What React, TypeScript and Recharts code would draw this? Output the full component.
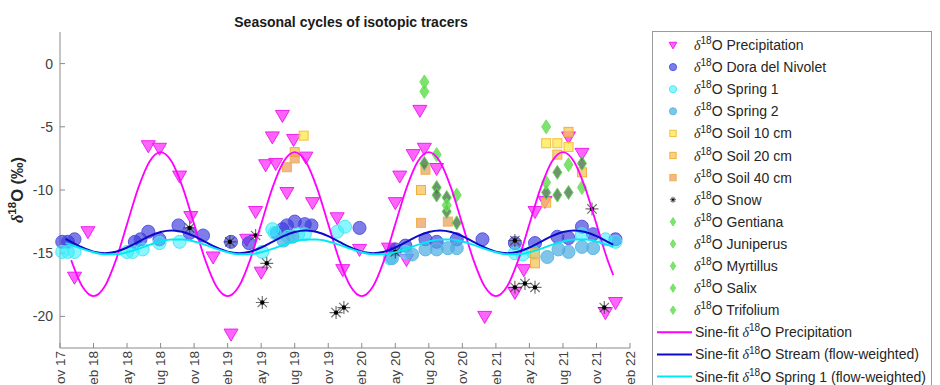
import { ComposedChart, Line, Scatter, XAxis, YAxis } from "recharts";

const FONT = '"Liberation Sans", Arial, Helvetica, sans-serif';
const SERIF = '"Liberation Serif", "DejaVu Serif", serif';

// x axis is in months counted from Nov 2017
const tickMonths = [0, 3, 6, 9, 12, 15, 18, 21, 24, 27, 30, 33, 36, 39, 42, 45, 48, 51];
const tickLabels = ["Nov 17", "Feb 18", "May 18", "Aug 18", "Nov 18", "Feb 19", "May 19", "Aug 19", "Nov 19",
  "Feb 20", "May 20", "Aug 20", "Nov 20", "Feb 21", "May 21", "Aug 21", "Nov 21", "Feb 22"];
const yTicks = [-20, -15, -10, -5, 0];

// sine-fit curves, one value per month
const fitMonths = [0.5, 1, 2, 3, 4, 5, 6, 7, 8, 9, 10, 11, 12, 13, 14, 15, 16, 17, 18, 19, 20, 21, 22, 23, 24, 25,
  26, 27, 28, 29, 30, 31, 32, 33, 34, 35, 36, 37, 38, 39, 40, 41, 42, 43, 44, 45, 46, 47, 48, 49, 49.5];
const precipFit = [null,
  -15.55, -17.64, -18.4, -17.64, -15.55, -12.7, -9.85, -7.76, -7.0, -7.76, -9.85, -12.7,
  -15.55, -17.64, -18.4, -17.64, -15.55, -12.7, -9.85, -7.76, -7.0, -7.76, -9.85, -12.7,
  -15.55, -17.64, -18.4, -17.64, -15.55, -12.7, -9.85, -7.76, -7.0, -7.76, -9.85, -12.7,
  -15.55, -17.64, -18.4, -17.64, -15.55, -12.7, -9.85, -7.76, -7.0, -7.76, -9.85, -12.7,
  -15.55, -16.73];
const streamFit = [-13.87,
  -14.1, -14.55, -14.88, -15.0, -14.88, -14.55, -14.1, -13.65, -13.32, -13.2, -13.32, -13.65,
  -14.1, -14.55, -14.88, -15.0, -14.88, -14.55, -14.1, -13.65, -13.32, -13.2, -13.32, -13.65,
  -14.1, -14.55, -14.88, -15.0, -14.88, -14.55, -14.1, -13.65, -13.32, -13.2, -13.32, -13.65,
  -14.1, -14.55, -14.88, -15.0, -14.88, -14.55, -14.1, -13.65, -13.32, -13.2, -13.32, -13.65,
  -14.1, -14.33];
const springFit = [-14.2,
  -14.34, -14.66, -14.92, -15.08, -15.08, -14.92, -14.66, -14.34, -14.08, -13.92, -13.92, -14.08,
  -14.34, -14.66, -14.92, -15.08, -15.08, -14.92, -14.66, -14.34, -14.08, -13.92, -13.92, -14.08,
  -14.34, -14.66, -14.92, -15.08, -15.08, -14.92, -14.66, -14.34, -14.08, -13.92, -13.92, -14.08,
  -14.34, -14.66, -14.92, -15.08, -15.08, -14.92, -14.66, -14.34, -14.08, -13.92, -13.92, -14.08,
  -14.34, -14.5];

// observations: [month, d18O]
const precipObs = [[1.3, -16.9], [2.5, -13.3], [7.9, -6.5], [8.9, -6.7], [10.7, -8.9], [11.7, -12.1], [13.7, -15.3],
  [15.3, -21.4], [16.7, -13.9], [17.5, -11.7], [18.0, -16.5], [18.4, -8.0], [19.0, -5.8], [19.3, -7.9], [19.9, -4.1],
  [20.3, -10.2], [20.9, -6.0], [22.0, -7.4], [22.6, -11.0], [24.8, -12.2], [25.3, -16.3], [26.8, -14.7], [29.4, -14.6],
  [30.0, -11.0], [30.4, -8.9], [31.0, -15.5], [31.6, -7.2], [32.2, -3.7], [32.6, -6.7], [33.7, -8.3], [38.0, -20.0],
  [40.7, -18.1], [41.5, -16.3], [42.5, -11.7], [43.4, -10.9], [45.5, -5.8], [46.7, -7.1], [48.8, -19.7], [49.7, -18.9]];
const doraObs = [[0.2, -14.1], [0.7, -14.1], [1.3, -13.9], [6.7, -14.1], [7.2, -13.9], [7.9, -13.3], [8.9, -13.9],
  [10.6, -12.8], [11.6, -13.4], [12.8, -13.6], [15.3, -14.1], [16.9, -14.2], [19.4, -13.4], [19.9, -13.1], [20.3, -12.8],
  [21.0, -12.5], [21.9, -12.7], [22.5, -12.8], [26.8, -13.0], [30.0, -14.7], [30.9, -14.4], [32.7, -13.9], [33.7, -14.1],
  [35.5, -13.9], [37.8, -13.9], [40.7, -14.2], [42.5, -14.2], [44.5, -13.7], [45.5, -13.8], [46.7, -12.9], [47.7, -13.5],
  [49.7, -13.9]];
const spring1Obs = [[0.2, -14.9], [0.7, -14.9], [1.3, -14.9], [6.0, -14.9], [6.5, -14.9], [7.4, -14.7], [8.9, -14.2],
  [10.7, -14.1], [18.1, -14.9], [19.0, -13.1], [19.2, -13.4], [20.4, -13.7], [21.3, -13.5], [21.9, -13.5], [24.8, -13.3],
  [25.5, -12.9], [29.5, -15.4], [30.9, -14.9], [40.7, -15.0], [41.4, -15.1], [42.3, -14.9], [46.7, -13.5], [48.8, -13.9],
  [49.7, -14.1]];
const spring2Obs = [[20.0, -14.0], [20.8, -13.7], [29.7, -15.4], [31.5, -15.1], [32.7, -14.7], [33.7, -14.7], [34.7, -14.6],
  [35.5, -14.6], [43.6, -15.3], [44.6, -14.7], [45.5, -14.9], [46.7, -14.5], [47.7, -14.6]];
const soil10Obs = [[21.8, -5.7], [43.5, -6.3], [44.5, -6.3], [45.5, -6.6]];
const soil20Obs = [[21.0, -7.0], [32.3, -10.0], [45.5, -5.4], [44.5, -7.2], [46.7, -8.6], [43.5, -11.0], [42.5, -15.0], [42.5, -15.8]];
const soil40Obs = [[20.3, -8.2], [21.0, -7.5], [32.7, -8.4], [32.3, -12.6], [34.7, -12.5]];
const snowObs = [[11.6, -13.0], [15.2, -14.1], [17.5, -13.6], [18.5, -15.8], [18.1, -18.9], [24.7, -19.7], [25.4, -19.3],
  [30.0, -14.9], [40.7, -14.0], [40.7, -17.7], [41.6, -17.4], [42.5, -17.7], [47.6, -11.5], [48.7, -19.3]];
const gentianaObs = [[32.6, -7.9], [33.7, -9.8], [34.6, -10.6], [44.5, -8.6], [43.5, -10.2]];
const juniperusObs = [[33.7, -10.4], [34.6, -11.7], [35.5, -12.6], [44.5, -10.4], [45.5, -10.2], [46.7, -7.9]];
const myrtillusObs = [[32.6, -1.45], [33.7, -7.2], [43.5, -5.0]];
const salixObs = [[32.6, -2.2], [35.5, -10.4], [45.5, -8.0]];
const trifoliumObs = [[34.6, -11.2], [46.7, -9.8], [43.5, -9.4]];

const pts = (arr: number[][]) => arr.map(([m, v]) => ({ m, v }));
const fitRows = fitMonths.map((m, i) => ({ m, precip: precipFit[i], stream: streamFit[i], spring: springFit[i] }));

type Sty = { fill: string; stroke: string; op: number };
const ST: Record<string, Sty> = {
  precip: { fill: "#ff30ff", stroke: "#ee20ee", op: 0.75 },
  dora: { fill: "#3838dc", stroke: "#5454e4", op: 0.65 },
  spring1: { fill: "#30ecff", stroke: "#48eaf0", op: 0.55 },
  spring2: { fill: "#48ace0", stroke: "#62b8e6", op: 0.7 },
  soil10: { fill: "#ffe848", stroke: "#f0c040", op: 0.75 },
  soil20: { fill: "#f7c458", stroke: "#efb040", op: 0.75 },
  soil40: { fill: "#ec985a", stroke: "#f0b050", op: 0.7 },
  dark: { fill: "#4a784a", stroke: "#66d855", op: 0.8 },
  light: { fill: "#5cdc4c", stroke: "#72e462", op: 0.8 },
};

const tri = (s: Sty, k = 1) => (p: any) => (
  <path d={`M${p.cx - 7 * k},${p.cy - 5 * k}L${p.cx + 7 * k},${p.cy - 5 * k}L${p.cx},${p.cy + 7 * k}Z`}
    fill={s.fill} fillOpacity={s.op} stroke={s.stroke} strokeWidth={1} />
);
const circ = (s: Sty, k = 1) => (p: any) => (
  <circle cx={p.cx} cy={p.cy} r={6.5 * k} fill={s.fill} fillOpacity={s.op} stroke={s.stroke} strokeWidth={1} />
);
const sq = (s: Sty, k = 1) => (p: any) => (
  <rect x={p.cx - 4.5 * k} y={p.cy - 4.5 * k} width={9 * k} height={9 * k} fill={s.fill} fillOpacity={s.op} stroke={s.stroke} strokeWidth={1} />
);
const dia = (s: Sty, k = 1) => (p: any) => (
  <path d={`M${p.cx},${p.cy - 7 * k}L${p.cx + 4.5 * k},${p.cy}L${p.cx},${p.cy + 7 * k}L${p.cx - 4.5 * k},${p.cy}Z`}
    fill={s.fill} fillOpacity={s.op} stroke={s.stroke} strokeWidth={1} />
);
const star = (k = 1) => (p: any) => {
  const r = 6.5 * k, d = r * 0.72;
  return (
    <g stroke="#333" strokeWidth={1.2}>
      <path d={`M${p.cx - r},${p.cy}H${p.cx + r}M${p.cx},${p.cy - r}V${p.cy + r}M${p.cx - d},${p.cy - d}L${p.cx + d},${p.cy + d}M${p.cx - d},${p.cy + d}L${p.cx + d},${p.cy - d}`} strokeOpacity={0.7} />
      <circle cx={p.cx} cy={p.cy} r={2.2 * k} fill="#000" stroke="none" />
    </g>
  );
};

const XTick = ({ x, y, payload }: any) => (
  <text transform={`translate(${x},${y}) rotate(-90)`} textAnchor="end" dy="0.35em" fontSize={13.5} fill="#404040" fontFamily={FONT}>
    {tickLabels[tickMonths.indexOf(payload.value)]}
  </text>
);

const Iso = ({ x, y, pre = "", post, size = 14, bold = false }: any) => (
  <text x={x} y={y} fontSize={size} fill="#262626" fontFamily={FONT} fontWeight={bold ? "bold" : "normal"}>
    {pre}
    <tspan fontFamily={SERIF} fontStyle="italic">δ</tspan>
    <tspan fontSize={size * 0.72} dy={-size * 0.42}>18</tspan>
    <tspan dy={size * 0.42}>{"O " + post}</tspan>
  </text>
);

const legendItems: { name: string; mark: (p: any) => any }[] = [
  { name: "Precipitation", mark: tri(ST.precip, 0.55) },
  { name: "Dora del Nivolet", mark: circ(ST.dora, 0.55) },
  { name: "Spring 1", mark: circ(ST.spring1, 0.55) },
  { name: "Spring 2", mark: circ(ST.spring2, 0.55) },
  { name: "Soil 10 cm", mark: sq(ST.soil10, 0.7) },
  { name: "Soil 20 cm", mark: sq(ST.soil20, 0.7) },
  { name: "Soil 40 cm", mark: sq(ST.soil40, 0.7) },
  { name: "Snow", mark: star(0.45) },
  { name: "Gentiana", mark: dia(ST.light, 0.6) },
  { name: "Juniperus", mark: dia(ST.light, 0.6) },
  { name: "Myrtillus", mark: dia(ST.light, 0.6) },
  { name: "Salix", mark: dia(ST.light, 0.6) },
  { name: "Trifolium", mark: dia(ST.light, 0.6) },
];
const legendLines = [
  { name: "Precipitation", color: "#ff00ff" },
  { name: "Stream (flow-weighted)", color: "#0a0ac8" },
  { name: "Spring 1 (flow-weighted)", color: "#00e8f2" },
];

function LegendBox() {
  const rowY = (i: number) => 14 + 22.1 * i;
  return (
    <svg width={281} height={360} style={{ position: "absolute", left: 652, top: 31 }}>
      <rect x={0.5} y={0.5} width={279} height={380} fill="#fff" stroke="#9a9a9a" />
      {legendItems.map((it, i) => (
        <g key={it.name}>
          {it.mark({ cx: 21, cy: rowY(i) })}
          <Iso x={42} y={rowY(i) + 5} post={it.name} />
        </g>
      ))}
      {legendLines.map((l, j) => {
        const cy = rowY(legendItems.length + j);
        return (
          <g key={l.name}>
            <line x1={5} x2={40} y1={cy} y2={cy} stroke={l.color} strokeWidth={2} />
            <Iso x={43} y={cy + 5} pre="Sine-fit " post={l.name} />
          </g>
        );
      })}
    </svg>
  );
}

export default function App() {
  return (
    <div style={{ position: "absolute", left: 0, top: 0, width: 940, height: 385, overflow: "hidden", background: "#fff", fontFamily: FONT }}>
      <ComposedChart width={940} height={385} data={fitRows} margin={{ top: 32, right: 310, bottom: 0, left: 0 }}>
        <XAxis dataKey="m" type="number" domain={[0, 51]} ticks={tickMonths} height={37} tickSize={-5} tickMargin={8}
          stroke="#8a8a8a" tick={<XTick />} interval={0} />
        <XAxis xAxisId="top" orientation="top" dataKey="m" type="number" domain={[0, 51]} ticks={tickMonths} height={0}
          tickSize={-5} stroke="#8a8a8a" tick={() => null} interval={0} />
        <YAxis type="number" domain={[-22.5, 2.5]} ticks={yTicks} width={60} tickSize={-5} tickMargin={12} stroke="#8a8a8a"
          tick={{ fontSize: 14, fill: "#404040", fontFamily: FONT }} interval={0}
          label={{ content: () => (
            <g transform="translate(23,190) rotate(-90)">
              <text textAnchor="middle" fontSize={16.5} fontWeight="bold" fill="#262626" fontFamily={FONT}>
                <tspan fontFamily={SERIF} fontStyle="italic">δ</tspan>
                <tspan fontSize={11.5} dy={-7}>18</tspan>
                <tspan dy={7}>O (‰)</tspan>
              </text>
            </g>
          ) }} />
        <YAxis yAxisId="right" orientation="right" type="number" domain={[-22.5, 2.5]} ticks={yTicks} width={0} tickSize={-5}
          stroke="#8a8a8a" tick={() => null} interval={0} />

        <Scatter data={pts(precipObs)} dataKey="v" shape={tri(ST.precip)} isAnimationActive={false} />
        <Scatter data={pts(doraObs)} dataKey="v" shape={circ(ST.dora)} isAnimationActive={false} />
        <Scatter data={pts(spring1Obs)} dataKey="v" shape={circ(ST.spring1)} isAnimationActive={false} />
        <Scatter data={pts(spring2Obs)} dataKey="v" shape={circ(ST.spring2)} isAnimationActive={false} />
        <Scatter data={pts(soil10Obs)} dataKey="v" shape={sq(ST.soil10)} isAnimationActive={false} />
        <Scatter data={pts(soil20Obs)} dataKey="v" shape={sq(ST.soil20)} isAnimationActive={false} />
        <Scatter data={pts(soil40Obs)} dataKey="v" shape={sq(ST.soil40)} isAnimationActive={false} />
        <Scatter data={pts(snowObs)} dataKey="v" shape={star()} isAnimationActive={false} />
        <Scatter data={pts(gentianaObs)} dataKey="v" shape={dia(ST.dark)} isAnimationActive={false} />
        <Scatter data={pts(juniperusObs)} dataKey="v" shape={dia(ST.dark)} isAnimationActive={false} />
        <Scatter data={pts(myrtillusObs)} dataKey="v" shape={dia(ST.light)} isAnimationActive={false} />
        <Scatter data={pts(salixObs)} dataKey="v" shape={dia(ST.light)} isAnimationActive={false} />
        <Scatter data={pts(trifoliumObs)} dataKey="v" shape={dia(ST.light)} isAnimationActive={false} />

        <Line dataKey="precip" type="monotone" stroke="#ff00ff" strokeWidth={1.8} dot={false} isAnimationActive={false} zIndex={700} />
        <Line dataKey="stream" type="monotone" stroke="#0a0ac8" strokeWidth={2} dot={false} isAnimationActive={false} zIndex={700} />
        <Line dataKey="spring" type="monotone" stroke="#00e8f2" strokeWidth={2} dot={false} isAnimationActive={false} zIndex={700} />
      </ComposedChart>
      <svg width={940} height={40} style={{ position: "absolute", left: 0, top: 0 }}>
        <text x={351} y={27} textAnchor="middle" fontSize={14} fontWeight="bold" fill="#1a1a1a" fontFamily={FONT}>
          Seasonal cycles of isotopic tracers
        </text>
      </svg>
      <LegendBox />
    </div>
  );
}
